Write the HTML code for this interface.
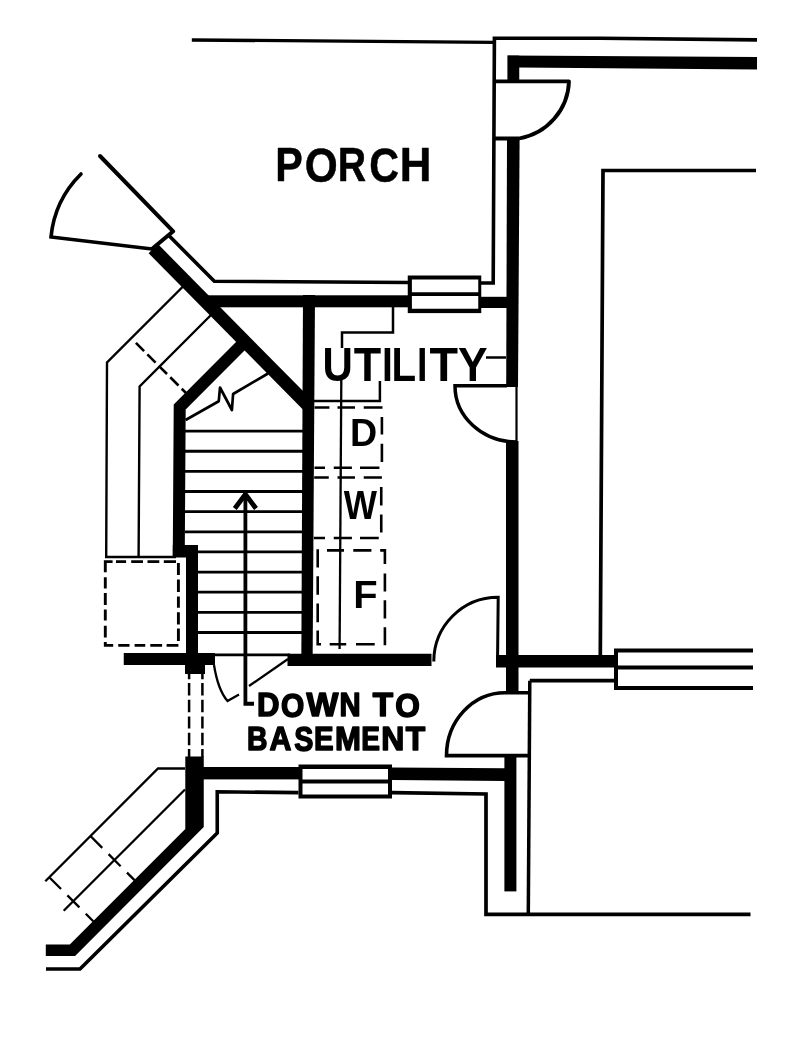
<!DOCTYPE html>
<html><head><meta charset="utf-8"><title>Utility Floor Plan</title>
<style>
html,body{margin:0;padding:0;background:#fff;}
body{width:800px;height:1048px;overflow:hidden;}
svg{display:block;will-change:transform;}
text{font-family:"Liberation Sans",sans-serif;font-weight:bold;fill:#000;}
</style></head>
<body>
<svg width="800" height="1048" viewBox="0 0 800 1048">
<rect width="800" height="1048" fill="#fff"/>
<g fill="none" stroke="#000" stroke-linejoin="miter">
  <!-- porch top line -->
  <path d="M191.8,40 L494,42.3" stroke-width="3.3"/>
  <!-- outer thin line top-right -->
  <path d="M481,283 H493.2 L494.4,38.2 H600 L757,39.9" stroke-width="3.6"/>
  <!-- inner box right room -->
  <path d="M600.3,656 L603,170.5 H756" stroke-width="3.7"/>
  <!-- top right door -->
  <path d="M494,81.4 H569 A60 60 0 0 1 519,138.5 H494" stroke-width="3.8" stroke-linejoin="round"/>
  <!-- porch lower thin line -->
  <path d="M168.6,235.3 L214.3,281.2 L408,282.5" stroke-width="3.6"/>
  <!-- top-left door leaf + cap -->
  <path d="M100,156 L173.2,231.3 L152.5,248.5" stroke-width="4" stroke-linecap="round" stroke-linejoin="round"/>
  <path d="M81,174 A102.5 102.5 0 0 0 51,237 L152,249" stroke-width="3.6" stroke-linecap="round"/>
  <!-- big diagonal thick -->
  <path d="M153.3,248.7 L308.3,405.7" stroke-width="13.1"/>
  <!-- stair outer thin lines -->
  <path d="M182.75,286.75 L107,362.5 L106.2,557 H176" stroke-width="2.4"/>
  <path d="M211,315 L139.6,386.4 L138.6,557" stroke-width="2.4"/>
  <path d="M135.9,342.9 L188,395" stroke-width="2.6" stroke-dasharray="11.6,4.6"/>
  <!-- stair left thick wall (diagonal+vertical) -->
  <path d="M178.75,557 L179.7,407 L243,343.5" stroke-width="12"/>
  <!-- break line -->
  <path d="M185.6,420 L218.75,401.25 L220,387.5 L231.9,410 L233.1,394 L268,373.5" stroke-width="2.7" stroke-linejoin="round"/>
  <!-- treads -->
  <g stroke-width="2.8">
    <path d="M185,431.10 H303"/>
    <path d="M185,451.24 H303"/>
    <path d="M185,471.38 H303"/>
    <path d="M185,491.52 H303"/>
    <path d="M185,511.66 H303"/>
    <path d="M185,531.80 H303"/>
    <path d="M198,551.94 H303"/>
    <path d="M198,572.08 H303"/>
    <path d="M198,592.22 H303"/>
    <path d="M198,612.36 H303"/>
    <path d="M198,632.50 H303"/>
    <path d="M205,654.8 H290"/>
  </g>
  <!-- arrow -->
  <path d="M254,703.75 H245.4 V496" stroke-width="3.8"/>
  <path d="M234.8,508.5 L245.4,494.2 L256,508.5" stroke-width="4.8"/>
  <!-- stair bottom diagonal -->
  <path d="M249,686 L288,659" stroke-width="2.3"/>
  <!-- door arc near stair bottom -->
  <path d="M214,665 Q218,690 227.5,701 L239,694.5" stroke-width="2.3"/>
  <!-- left dashed box -->
  <path stroke-width="2.9" d="M105.3,572.25 V561.6 H112.6 M116,561.6 H126.1 M131.2,561.6 H143 M147.5,561.6 H159.3 M163.8,561.6 H176 M178.4,563 V575 M178.4,579.6 V592 M178.4,596.4 V607.7 M178.4,612.2 V624.6 M178.4,628.5 V640.9 M105.3,577.3 V588.6 M105.3,593 V604.9 M105.3,609.4 V620.6 M105.3,625.7 V637.5 M105.3,642 V645.4 H113.2 M118.25,645.4 H129.5 M134.6,645.4 H145.25 M150.3,645.4 H162.1 M166.6,645.4 H178.4"/>
  <!-- dashed verticals -->
  <path d="M189.1,673 V679.3 M189.1,683.1 V695.5 M189.1,699.8 V712.2 M189.1,716.5 V728.5 M189.1,732.7 V745.2 M189.1,749 V757 M202.4,673 V679.3 M202.4,683.1 V695.5 M202.4,699.8 V712.2 M202.4,716.5 V728.5 M202.4,732.7 V745.2 M202.4,749 V757" stroke-width="2.5"/>
  <!-- lower thin lines -->
  <path d="M298.5,792.6 L217.25,791.8 V833 L80,969 H46" stroke-width="3.6"/>
  <path d="M392,792.6 L486,794 V914.4 H750.5" stroke-width="3.7"/>
  <path d="M529.8,680.7 L528.3,913.5" stroke-width="3.5"/>
  <path d="M529.8,680.7 H616" stroke-width="3.8"/>
  <!-- ramp lines -->
  <path d="M185,768.5 H158 L45.3,881.2" stroke-width="2.3"/>
  <path d="M185,789.5 L63.7,910.8" stroke-width="2.3"/>
  <path d="M49,877 L93.5,921.5" stroke-width="2.3" stroke-dasharray="17,9"/>
  <path d="M90.2,835.8 L134.5,880.1" stroke-width="2.3" stroke-dasharray="17,9"/>
  <!-- right window (open) -->
  <path d="M753,650.6 H616 V688 H753 M616,667.5 H753" stroke-width="4"/>
  <!-- doors -->
  <path d="M433.8,661.5 A64.2 64.2 0 0 1 498.2,597.3 L497.6,655" stroke-width="3"/>
  <path d="M529.7,692.7 H505 A58.5 63 0 0 0 446.5,755.6 H529.7" stroke-width="3.6"/>
  <path d="M507,385.75 H455 A61.5 56 0 0 0 516.5,442" stroke-width="3.5"/><path d="M516.5,442 V386" stroke-width="2.2"/>
  <!-- counter + zigzag -->
  <path d="M393,307 V332.4 H342 V348" stroke-width="2.5"/>
  <path d="M341.3,380 L339.6,649.1" stroke-width="2.3"/>
  <path d="M314,401.1 H379.9 V381" stroke-width="2.5"/>
  <path d="M486,357.5 H506" stroke-width="2.5"/>
  <!-- appliance dashed boxes -->
  <path stroke-width="2.6" d="M314.5,407.5 H329.4 M337.5,407.5 H355 M363.75,407.5 H382.5 M381.9,416.9 V434.4 M381.9,443.75 V461.9 M314.5,467.8 H325 M333.75,467.8 H351.9 M360,467.8 H379.4"/>
  <path stroke-width="2.6" d="M314.2,477.5 H328.75 M337.5,477.5 H355 M363.75,477.5 H381.9 M381.25,486.9 V505.6 M381.25,514.4 V532.5 M313.8,538 H325 M333.75,538 H351.9 M360,538 H378.75"/>
  <path stroke-width="2.6" d="M317.7,549.3 V567.4 M317.7,576.2 V594.8 M317.7,603.6 V622.3 M317.7,630.5 V644.2 H321 M327,550.4 H344 M353.3,550.4 H371.4 M380.2,550.4 H384.9 V564.1 M384.9,573.5 V591.5 M384.9,600.3 V618.4 M384.9,627.2 V645.3 M329.7,644.2 H346.2 M356,644.2 H374.7"/>
</g>
<g fill="#000" stroke="none">
  <!-- top right thick walls -->
  <path d="M507.4,55.6 L757,57 V69.4 L519,67.6 Z"/>
  <rect x="507.4" y="55.6" width="11.85" height="24.4"/>
  <path d="M507,139.5 H519.6 L518,387 H506.2 Z"/>
  <rect x="506" y="441" width="12.5" height="250"/>
  <rect x="504.4" y="756" width="12" height="135.4"/>
  <!-- porch-utility thick wall -->
  <rect x="204" y="295.3" width="204" height="12"/>
  <rect x="481" y="296.8" width="27" height="11.2"/>
  <!-- window porch-utility -->
  <rect x="407.75" y="275.5" width="73.5" height="37.6"/>
  <!-- utility left wall -->
  <path d="M303,295 H315 L312.6,666 H301.3 Z"/>
  <!-- stair left lower -->
  <rect x="186" y="545" width="12" height="129"/>
  <rect x="172.8" y="545" width="13.5" height="12.5"/>
  <rect x="185" y="653" width="20" height="21"/>
  <rect x="123.75" y="653" width="91.25" height="12"/>
  <rect x="287.5" y="653.75" width="144" height="12.25"/>
  <!-- right horizontal wall -->
  <rect x="496" y="655" width="120" height="12.5"/>
  <!-- lower block & diagonal -->
  <path d="M185.3,756.5 H203.75 V827 L75.1,955.9 H45.8 V944.4 H69.8 L185.3,828.9 Z"/>
  <rect x="203" y="767" width="96" height="12.4"/>
  <path d="M392,767.6 L505,768.3 V781 L392,780 Z"/>
  <!-- lower window -->
  <rect x="298.5" y="764.5" width="93.5" height="34"/>
</g>
<g fill="#fff" stroke="none">
  <rect x="411.9" y="279.5" width="66.35" height="12.75"/>
  <rect x="411.9" y="296" width="66.35" height="12.75"/>
  <rect x="302.5" y="769" width="85.5" height="10.5"/>
  <rect x="302.5" y="783.5" width="85.5" height="11"/>
</g>
<!-- texts -->
<text transform="translate(275.14 181.35) scale(0.873 1)" font-size="47.24" stroke="#000" stroke-width="0.50" stroke-linejoin="round">P</text>
<text transform="translate(304.71 182.03) scale(0.874 1)" font-size="48.52" stroke="#000" stroke-width="0.50" stroke-linejoin="round">O</text>
<text transform="translate(337.83 181.35) scale(0.830 1)" font-size="47.24" stroke="#000" stroke-width="0.50" stroke-linejoin="round">R</text>
<text transform="translate(369.16 182.27) scale(0.847 1)" font-size="48.73" stroke="#000" stroke-width="0.50" stroke-linejoin="round">C</text>
<text transform="translate(399.82 181.35) scale(0.927 1)" font-size="47.24" stroke="#000" stroke-width="0.50" stroke-linejoin="round">H</text>
<text transform="translate(322.57 380.53) scale(0.871 1)" font-size="48.30">U</text>
<text transform="translate(353.80 380.50) scale(0.931 1)" font-size="48.26">T</text>
<text transform="translate(382.10 380.50) scale(0.806 1)" font-size="48.26">I</text>
<text transform="translate(391.41 380.50) scale(0.834 1)" font-size="48.26">L</text>
<text transform="translate(417.09 380.50) scale(0.777 1)" font-size="48.26">I</text>
<text transform="translate(429.38 380.50) scale(0.968 1)" font-size="48.26">T</text>
<text transform="translate(457.99 380.50) scale(0.920 1)" font-size="48.26">Y</text>
<text transform="translate(349.98 445.60) scale(0.965 1)" font-size="39.03">D</text>
<text transform="translate(343.72 518.75) scale(0.873 1)" font-size="40.33">W</text>
<text transform="translate(353.33 607.80) scale(1.010 1)" font-size="39.54">F</text>
<text transform="translate(257.07 716.45) scale(0.957 1)" font-size="32.56" stroke="#000" stroke-width="1.50" stroke-linejoin="round">D</text>
<text transform="translate(281.02 717.22) scale(0.878 1)" font-size="34.11" stroke="#000" stroke-width="1.50" stroke-linejoin="round">O</text>
<text transform="translate(306.42 716.45) scale(1.037 1)" font-size="32.56" stroke="#000" stroke-width="1.50" stroke-linejoin="round">W</text>
<text transform="translate(339.39 716.45) scale(0.899 1)" font-size="32.56" stroke="#000" stroke-width="1.50" stroke-linejoin="round">N</text>
<text transform="translate(372.68 716.45) scale(1.022 1)" font-size="32.56" stroke="#000" stroke-width="1.50" stroke-linejoin="round">T</text>
<text transform="translate(395.35 717.22) scale(0.928 1)" font-size="34.11" stroke="#000" stroke-width="1.50" stroke-linejoin="round">O</text>
<text transform="translate(246.95 750.45) scale(0.860 1)" font-size="32.99" stroke="#000" stroke-width="1.50" stroke-linejoin="round">B</text>
<text transform="translate(269.39 750.45) scale(0.919 1)" font-size="32.99" stroke="#000" stroke-width="1.50" stroke-linejoin="round">A</text>
<text transform="translate(294.32 750.91) scale(0.836 1)" font-size="34.32" stroke="#000" stroke-width="1.50" stroke-linejoin="round">S</text>
<text transform="translate(314.03 750.45) scale(0.891 1)" font-size="32.99" stroke="#000" stroke-width="1.50" stroke-linejoin="round">E</text>
<text transform="translate(334.92 750.45) scale(0.943 1)" font-size="32.99" stroke="#000" stroke-width="1.50" stroke-linejoin="round">M</text>
<text transform="translate(361.37 750.45) scale(0.851 1)" font-size="32.99" stroke="#000" stroke-width="1.50" stroke-linejoin="round">E</text>
<text transform="translate(381.37 750.45) scale(0.967 1)" font-size="32.99" stroke="#000" stroke-width="1.50" stroke-linejoin="round">N</text>
<text transform="translate(405.64 750.45) scale(0.965 1)" font-size="32.99" stroke="#000" stroke-width="1.50" stroke-linejoin="round">T</text>
</svg>
</body></html>
